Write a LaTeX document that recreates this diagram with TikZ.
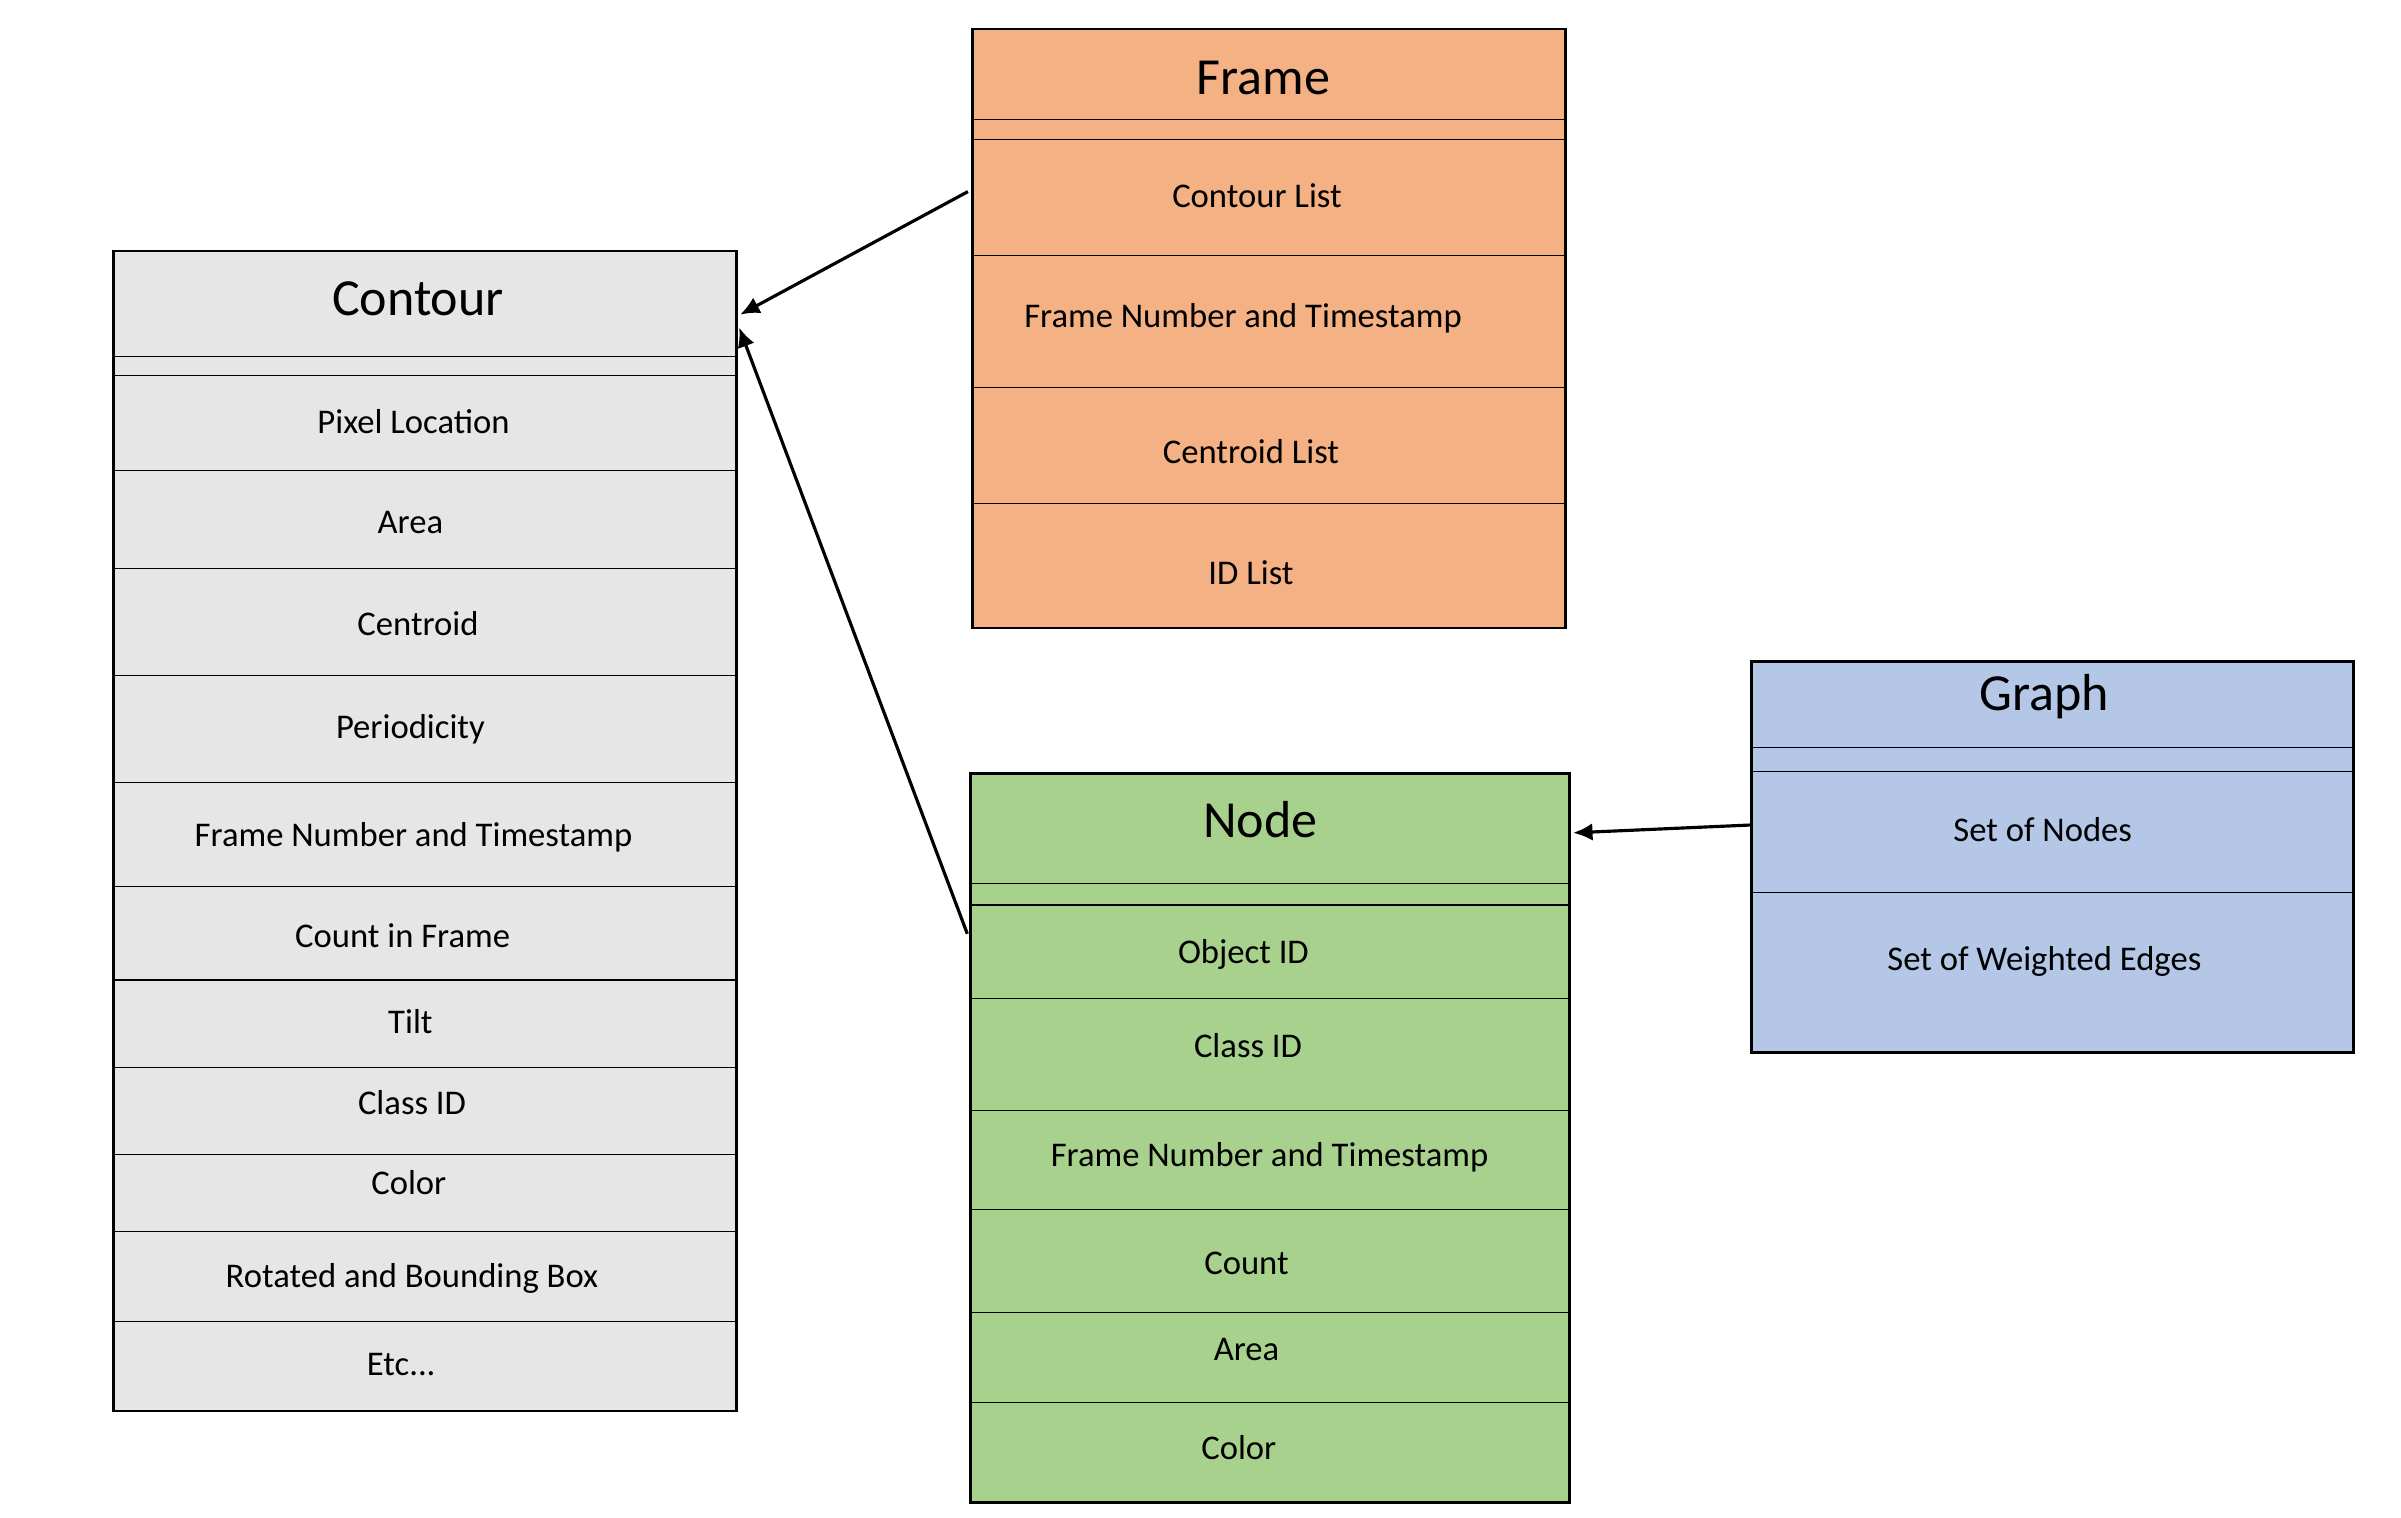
\documentclass[tikz,border=0pt]{standalone}
\usepackage{fontspec}
\setmainfont{Carlito}
\usetikzlibrary{arrows.meta,calc}

\definecolor{contourgray}{HTML}{E7E6E6}
\definecolor{framepeach}{HTML}{F4B183}
\definecolor{nodegreen}{HTML}{A9D18E}
\definecolor{graphblue}{HTML}{B4C7E7}

\begin{document}
\begin{tikzpicture}[x=0.01cm, y=-0.01cm,
    box/.style={draw=black, line width=0.8pt, inner sep=0pt, anchor=north west},
    sep/.style={line width=0.35pt},
    row/.style={font=\fontsize{9.85}{12}\selectfont, inner sep=1pt},
    title/.style={font=\fontsize{14.8}{18}\selectfont, inner sep=1pt},
    link/.style={line width=0.9pt, -{Latex[length=5.5pt,width=5pt]}}]
    \useasboundingbox (0,0) rectangle (2401,1517);

    % Contour
    \node[box, fill=contourgray, minimum width=6.232cm, minimum height=11.592cm] (contour) at (111.8,249.6) {};
    \foreach \y in {356.8,375.2,470.1,568.1,675.3,782.5,886.6,980,1067.3,1154.6,1231.2,1321.5}
        \draw[sep] (111.8,\y) -- (735,\y);
    \node[title] (ctitle) at (418,298.6) {Contour};
    \foreach \n/\x/\y/\txt in {cpix/413.5/421.1/Pixel Location, carea/410.4/522.2/Area,
        ccent/418/623.2/Centroid, cper/410.4/728.9/Periodicity,
        cfnt/413.5/837.6/Frame Number and Timestamp, ccount/402.7/935.6/Count in Frame,
        ctilt/410.4/1021.4/Tilt, cclass/412/1102.5/Class ID, ccolor/408.8/1182.2/Color,
        crot/412/1278.6/Rotated and Bounding Box}
        \node[row] (\n) at (\x,\y) {\txt};
    \node[row] (cetc) at (401.2,1364.4) {Etc...};

    % Frame
    \node[box, fill=framepeach, minimum width=5.926cm, minimum height=5.987cm] (frame) at (970.9,27.6) {};
    \foreach \y in {119.4,139.3,255.7,387.4,503.8}
        \draw[sep] (970.9,\y) -- (1563.5,\y);
    \node[title] (ftitle) at (1263.3,78.1) {Frame};
    \foreach \n/\x/\y/\txt in {fclist/1257/196/Contour List, ffnt/1243/318.5/Frame Number and Timestamp,
        fcent/1251/451.7/Centroid List, fid/1251/572.7/ID List}
        \node[row] (\n) at (\x,\y) {\txt};

    % Node
    \node[box, fill=nodegreen, minimum width=5.987cm, minimum height=7.289cm] (node) at (969.3,771.8) {};
    \foreach \y in {883.6,905,998.4,1110.2,1209.7,1312.3,1402.7}
        \draw[sep] (969.3,\y) -- (1568,\y);
    \node[title] (ntitle) at (1260.2,819.2) {Node};
    \foreach \n/\x/\y/\txt in {nobj/1243.4/954/Object ID, nclass/1248/1045.9/Class ID,
        nfnt/1269.5/1157.7/Frame Number and Timestamp, ncount/1246.5/1263.3/Count,
        narea/1246.5/1349.1/Area, ncolor/1238.8/1447.1/Color}
        \node[row] (\n) at (\x,\y) {\txt};

    % Graph
    \node[box, fill=graphblue, minimum width=6.018cm, minimum height=3.905cm] (graph) at (1750.3,660) {};
    \foreach \y in {747.3,771.8,892.7}
        \draw[sep] (1750.3,\y) -- (2352.1,\y);
    \node[title] (gtitle) at (2044.3,696.7) {Graph};
    \node[row] (gnodes) at (2042.7,830) {Set of Nodes};
    \node[row] (gedges) at (2044.3,961.7) {Set of Weighted Edges};

    % links
    \draw[link] ($(frame.north west)+(-3,164)$) -- ($(contour.north east)+(2,65)$);
    \draw[link] ($(node.north west)+(-2,162)$) -- ($(contour.north east)+(1,78)$);
    \draw[link] ($(graph.north west)+(0,165)$) -- ($(node.north east)+(2,61)$);
\end{tikzpicture}
\end{document}
